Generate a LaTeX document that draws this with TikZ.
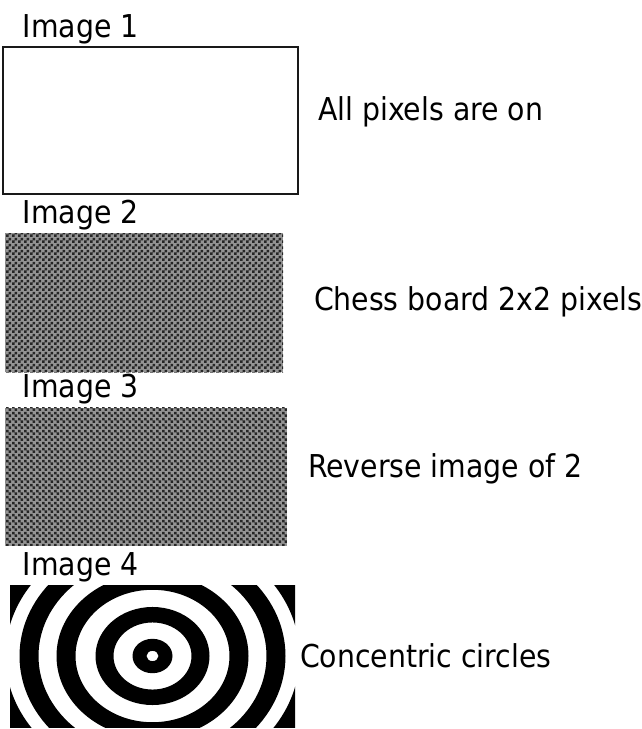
\documentclass[tikz,border=0pt]{standalone}
\usepackage{fontspec}
\setmainfont{DejaVu Sans}[FakeStretch=0.9]
\usetikzlibrary{positioning,patterns}

\pgfdeclarepatternformonly{chessA}{\pgfpointorigin}{\pgfqpoint{6pt}{6pt}}{\pgfqpoint{6pt}{6pt}}{%
  \pgfpathrectangle{\pgfpointorigin}{\pgfqpoint{3pt}{3pt}}%
  \pgfpathrectangle{\pgfqpoint{3pt}{3pt}}{\pgfqpoint{3pt}{3pt}}%
  \pgfusepath{fill}}
\pgfdeclarepatternformonly{chessB}{\pgfpointorigin}{\pgfqpoint{6pt}{6pt}}{\pgfqpoint{6pt}{6pt}}{%
  \pgfpathrectangle{\pgfqpoint{3pt}{0pt}}{\pgfqpoint{3pt}{3pt}}%
  \pgfpathrectangle{\pgfqpoint{0pt}{3pt}}{\pgfqpoint{3pt}{3pt}}%
  \pgfusepath{fill}}

\tikzset{
every node/.style={inner sep=0pt, outer sep=0pt},
txt/.style={font=\fontsize{31.5}{38}\selectfont},
onbox/.style={draw=black!90, line width=2.2pt, fill=white},
chessbox/.style={preaction={fill=black!42}, pattern color=black!85},
ringbox/.style={path picture={
  \foreach \ri/\ro in {6/20,39/57,77/96,114/133,147/168}
    \fill[even odd rule] (path picture bounding box.center)
      ellipse[x radius=\ro, y radius=0.86*\ro]
      ellipse[x radius=\ri, y radius=0.86*\ri];
}},
}

\begin{document}
\begin{tikzpicture}[x=1pt,y=-1pt]
	\useasboundingbox (0,0) rectangle (642,729);

	% the four test images
	\node[onbox, minimum width=295pt, minimum height=147pt] (img1) at (150.5,120.5) {};
	\node[chessbox, pattern=chessA, minimum width=278pt, minimum height=139pt] (img2) at (144,302.5) {};
	\node[chessbox, pattern=chessB, minimum width=282pt, minimum height=138pt] (img3) at (146,476.5) {};
	\node[ringbox, minimum width=285pt, minimum height=142pt] (img4) at (152.5,656) {};

	% titles
	\node[txt, above right=10pt and 20pt of img1.north west, anchor=base west] (t1) {Image 1};
	\node[txt, above right=10pt and 18pt of img2.north west, anchor=base west] (t2) {Image 2};
	\node[txt, above right=10pt and 18pt of img3.north west, anchor=base west] (t3) {Image 3};
	\node[txt, above right=10pt and 13pt of img4.north west, anchor=base west] (t4) {Image 4};

	% descriptions
	\node[txt, right=20pt of img1.east, anchor=base west] (l1) {All pixels are on};
	\node[txt, right=31pt of img2.east, anchor=base west, yshift=-8pt] (l2) {Chess board 2x2 pixels};
	\node[txt, right=21pt of img3.east, anchor=base west, yshift=-1pt] (l3) {Reverse image of 2};
	\node[txt, right=5pt of img4.east, anchor=base west, yshift=-11pt] (l4) {Concentric circles};
\end{tikzpicture}
\end{document}
